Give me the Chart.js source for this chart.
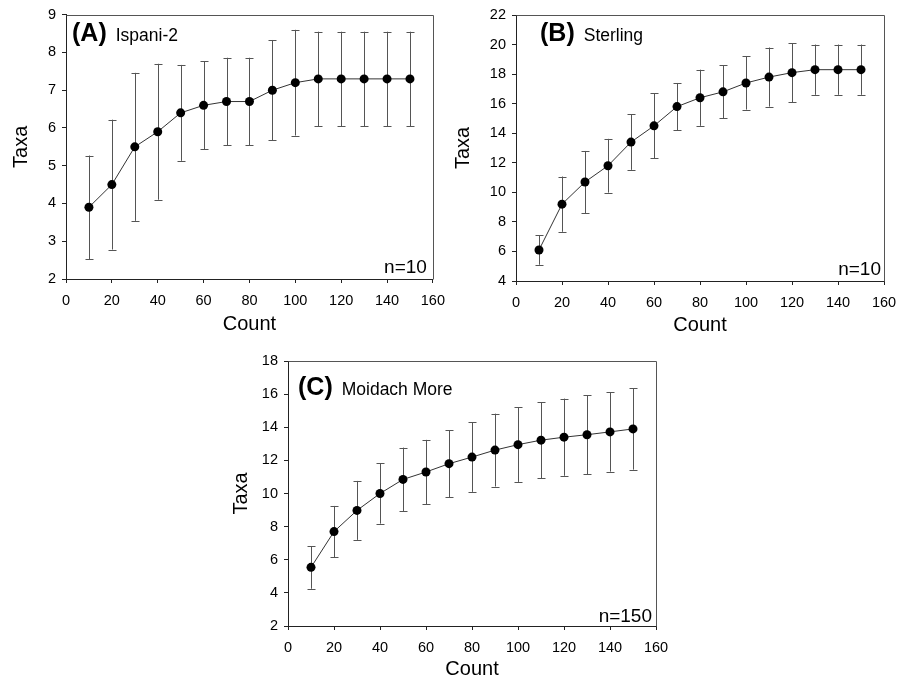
<!DOCTYPE html>
<html>
<head>
<meta charset="utf-8">
<script src="https://cdn.jsdelivr.net/npm/chart.js@4/dist/chart.umd.min.js"></script>
<style>
  html, body { margin: 0; padding: 0; background: #fff; }
  #page { position: relative; width: 908px; height: 682px; overflow: hidden; background: #fff; }
  canvas { position: absolute; display: block; }
</style>
</head>
<body>
<div id="page">
  <canvas id="panelA" width="454" height="340" style="left:0px;top:0px;width:454px;height:340px"></canvas>
  <canvas id="panelB" width="458" height="340" style="left:450px;top:0px;width:458px;height:340px"></canvas>
  <canvas id="panelC" width="460" height="342" style="left:220px;top:340px;width:460px;height:342px"></canvas>
</div>
<script>
// Rarefaction curves: mean number of taxa (± 1 SD) against count size
const counts = [10, 20, 30, 40, 50, 60, 70, 80, 90, 100, 110, 120, 130, 140, 150];
const xTicks = [0, 20, 40, 60, 80, 100, 120, 140, 160];

// (A) Ispani-2
const taxaA = [3.9, 4.5, 5.5, 5.9, 6.4, 6.6, 6.7, 6.7, 7.0, 7.2, 7.3, 7.3, 7.3, 7.3, 7.3];
const sdA   = [1.37, 1.72, 1.96, 1.8, 1.27, 1.17, 1.16, 1.16, 1.33, 1.4, 1.25, 1.25, 1.25, 1.25, 1.25];
const yTicksA = [2, 3, 4, 5, 6, 7, 8, 9];

// (B) Sterling
const taxaB = [6.1, 9.2, 10.7, 11.8, 13.4, 14.5, 15.8, 16.4, 16.8, 17.4, 17.8, 18.1, 18.3, 18.3, 18.3];
const sdB   = [1.0, 1.87, 2.1, 1.82, 1.88, 2.2, 1.6, 1.9, 1.8, 1.8, 2.0, 2.0, 1.7, 1.7, 1.7];
const yTicksB = [4, 6, 8, 10, 12, 14, 16, 18, 20, 22];

// (C) Moidach More
const taxaC = [5.54, 7.7, 8.98, 10.0, 10.85, 11.3, 11.8, 12.2, 12.62, 12.95, 13.22, 13.4, 13.55, 13.72, 13.9];
const sdC   = [1.29, 1.55, 1.78, 1.82, 1.92, 1.94, 2.03, 2.1, 2.2, 2.25, 2.3, 2.33, 2.38, 2.4, 2.46];
const yTicksC = [2, 4, 6, 8, 10, 12, 14, 16, 18];

const FONT = '"Liberation Sans", Arial, Helvetica, sans-serif';

// Draws ±SD whiskers behind the points, the frame, the panel tag and the n label
const panelDecor = {
  id: 'panelDecor',
  beforeDatasetsDraw(chart, args, opts) {
    const ctx = chart.ctx;
    const xs = chart.scales.x, ys = chart.scales.y;
    const ds = chart.data.datasets[0];
    ctx.save();
    ctx.strokeStyle = '#555';
    ctx.lineWidth = 1;
    const cap = 4;
    ds.data.forEach((p, i) => {
      const sd = opts.sd[i];
      const px = Math.round(xs.getPixelForValue(p.x)) + 0.5;
      const top = ys.getPixelForValue(p.y + sd);
      const bot = ys.getPixelForValue(p.y - sd);
      ctx.beginPath();
      ctx.moveTo(px, top); ctx.lineTo(px, bot);
      ctx.moveTo(px - cap, Math.round(top) + 0.5); ctx.lineTo(px + cap, Math.round(top) + 0.5);
      ctx.moveTo(px - cap, Math.round(bot) + 0.5); ctx.lineTo(px + cap, Math.round(bot) + 0.5);
      ctx.stroke();
    });
    ctx.restore();
  },
  afterDraw(chart, args, opts) {
    const ctx = chart.ctx;
    const a = chart.chartArea;
    ctx.save();
    // top and right frame lines
    ctx.strokeStyle = '#555';
    ctx.lineWidth = 1;
    ctx.beginPath();
    ctx.moveTo(Math.round(a.left) + 0.5, Math.round(a.top) + 0.5);
    ctx.lineTo(Math.round(a.right) + 0.5, Math.round(a.top) + 0.5);
    ctx.lineTo(Math.round(a.right) + 0.5, Math.round(a.bottom) + 0.5);
    ctx.stroke();
    // panel tag and site name
    ctx.fillStyle = '#000';
    ctx.textBaseline = 'alphabetic';
    ctx.textAlign = 'left';
    ctx.font = 'bold 25px ' + FONT;
    const tx = a.left + opts.tagDx, ty = a.top + opts.tagDy;
    ctx.fillText(opts.tag, tx, ty);
    const w = ctx.measureText(opts.tag).width;
    ctx.font = '17.5px ' + FONT;
    ctx.fillText(opts.site, tx + w + 9, ty);
    // sample size
    ctx.textAlign = 'right';
    ctx.font = '19px ' + FONT;
    ctx.fillText(opts.n, a.right - opts.nDx, a.bottom - opts.nDy);
    ctx.restore();
  }
};

function makePanel(id, means, sds, yTicks, geom, decor) {
  const yMin = yTicks[0], yMax = yTicks[yTicks.length - 1];
  const yStep = yTicks[1] - yTicks[0];
  const points = counts.map((c, i) => ({ x: c, y: means[i] }));
  return new Chart(document.getElementById(id), {
    type: 'scatter',
    data: {
      datasets: [{
        data: points,
        showLine: true,
        borderColor: '#333',
        borderWidth: 1,
        pointRadius: 4.5,
        pointHoverRadius: 4.5,
        pointBackgroundColor: '#000',
        pointBorderColor: '#000',
        pointBorderWidth: 0
      }]
    },
    options: {
      responsive: false,
      animation: false,
      devicePixelRatio: 1,
      events: [],
      layout: { padding: { top: geom.top, right: geom.right, left: 0, bottom: 0 } },
      plugins: {
        legend: { display: false },
        tooltip: { enabled: false },
        panelDecor: Object.assign({ sd: sds }, decor)
      },
      scales: {
        x: {
          type: 'linear',
          min: 0, max: 160,
          afterBuildTicks: (s) => { s.ticks = xTicks.map(v => ({ value: v })); },
          afterFit: (s) => { s.height = geom.xh; },
          ticks: { color: '#000', font: { family: FONT, size: 14.5 }, padding: 9, maxRotation: 0 },
          grid: { display: true, drawOnChartArea: false, drawTicks: true, tickLength: 4, color: '#222' },
          border: { display: true, color: '#222', width: 1 },
          title: { display: true, text: 'Count', color: '#000', font: { family: FONT, size: 20 }, padding: { top: 0, bottom: geom.xtp } }
        },
        y: {
          type: 'linear',
          min: yMin, max: yMax,
          afterBuildTicks: (s) => { s.ticks = yTicks.map(v => ({ value: v })); },
          afterFit: (s) => { s.width = geom.yw; },
          ticks: { color: '#000', font: { family: FONT, size: 14.5 }, padding: 6, stepSize: yStep },
          grid: { display: true, drawOnChartArea: false, drawTicks: true, tickLength: 4, color: '#222' },
          border: { display: true, color: '#222', width: 1 },
          title: { display: true, text: 'Taxa', color: '#000', font: { family: FONT, size: 20 }, padding: { top: geom.ytp, bottom: 0 } }
        }
      }
    },
    plugins: [panelDecor]
  });
}

makePanel('panelA', taxaA, sdA, yTicksA,
  { top: 14, right: 19, xh: 61, yw: 66, ytp: 9, xtp: 4 },
  { tag: '(A)', site: 'Ispani-2', n: 'n=10', tagDx: 6, tagDy: 26, nDx: 6, nDy: 6 });

makePanel('panelB', taxaB, sdB, yTicksB,
  { top: 15, right: 24, xh: 59, yw: 66, ytp: 1, xtp: 3 },
  { tag: '(B)', site: 'Sterling', n: 'n=10', tagDx: 24, tagDy: 25.5, nDx: 3, nDy: 6 });

makePanel('panelC', taxaC, sdC, yTicksC,
  { top: 21, right: 24, xh: 56, yw: 68, ytp: 9, xtp: 1 },
  { tag: '(C)', site: 'Moidach More', n: 'n=150', tagDx: 10, tagDy: 34, nDx: 4, nDy: 4 });
</script>
</body>
</html>
